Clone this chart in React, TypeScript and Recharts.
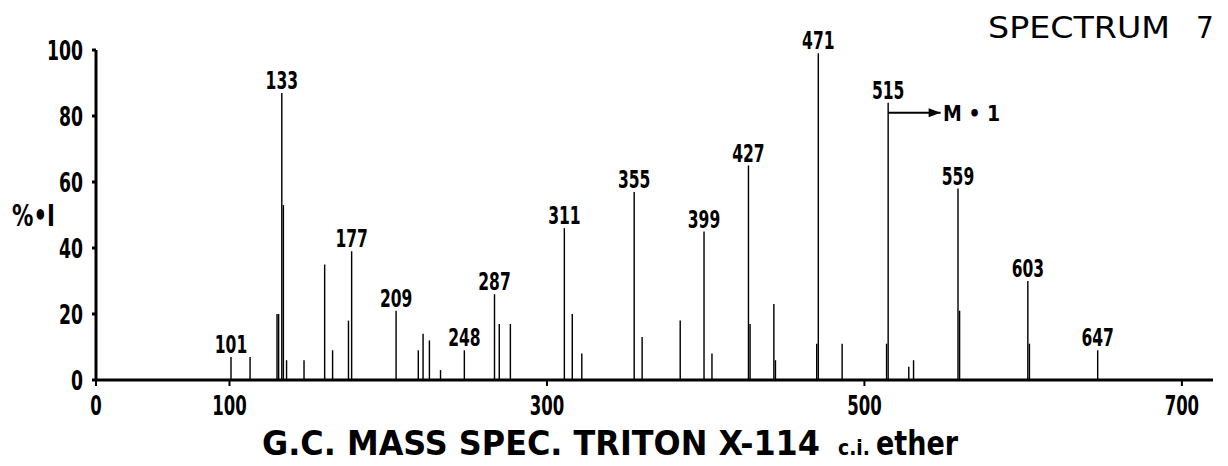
import React from 'react';
import { ComposedChart, Bar, Line, XAxis, YAxis, LabelList } from 'recharts';

// m/z of each line and its relative intensity (%)
const MASSES = [
    101, 113, 130, 131, 133, 134, 136, 147, 160, 165, 175, 177,
    205, 219, 222, 226, 233, 248, 267, 270, 277,
    311, 316, 322, 355, 360, 384, 399, 404, 427, 428, 443, 444,
    470, 471, 486, 514, 515, 528, 531, 559, 560, 603, 604, 647,
];
const INTENSITIES = [
    7, 7, 20, 20, 87, 53, 6, 6, 35, 9, 18, 39,
    21, 9, 14, 12, 3, 9, 26, 17, 17,
    46, 20, 8, 57, 13, 18, 45, 8, 65, 17, 23, 6,
    11, 99, 11, 11, 84, 4, 6, 58, 21, 30, 11, 9,
];

// peaks carrying a number, and the number printed above them
const LABEL_MASSES = [101, 133, 177, 205, 248, 267, 311, 355, 399, 427, 471, 515, 559, 603, 647];
const LABEL_TEXTS = ['101', '133', '177', '209', '248', '287', '311', '355', '399', '427', '471', '515', '559', '603', '647'];

const X_TICKS = [100, 300, 500, 700];
const Y_TICKS = [0, 20, 40, 60, 80, 100];
const X_MIN = 15.9;
const X_MAX = 719.6;

// M+1 arrow from the 515 line
const ARROW_MASSES = [515, 548];
const ARROW_LEVELS = [81, 81];

const FONT = "'DejaVu Sans Condensed', 'DejaVu Sans', sans-serif";

const data = MASSES.map((m, i) => {
    const k = LABEL_MASSES.indexOf(m);
    return { mass: m, intensity: INTENSITIES[i], label: k >= 0 ? LABEL_TEXTS[k] : '' };
});

const arrowData = ARROW_MASSES.map((m, i) => ({ mass: m, level: ARROW_LEVELS[i] }));

// narrow stencil-like digits: squeeze the glyphs to the width seen in the scan
const Narrow = ({ x, y, text, size, perChar, anchor, dy, weight }: any) => (
    <text
        x={x}
        y={y}
        dy={dy}
        textAnchor={anchor}
        fontSize={size}
        fontWeight={weight}
        fontFamily={FONT}
        fill="#000"
        textLength={text.length * perChar}
        lengthAdjust="spacingAndGlyphs"
    >
        {text}
    </text>
);

const PeakLabel = (props: any) => {
    const { x, y, width, value } = props;
    if (!value) return null;
    return <Narrow x={x + width / 2} y={y - 4} text={String(value)} size={24} perChar={10.8} anchor="middle" weight={600} />;
};

const YTick = (props: any) => {
    const { x, y, payload } = props;
    return <Narrow x={x} y={y} dy="0.36em" text={String(payload.value)} size={27} perChar={12} anchor="end" weight={600} />;
};

const XTick = (props: any) => {
    const { x, y, payload } = props;
    const t = payload.value < 50 ? '0' : String(payload.value);
    return <Narrow x={x} y={y} dy="0.72em" text={t} size={27} perChar={11.5} anchor="middle" weight={600} />;
};

const ArrowHead = (props: any) => {
    const { cx, cy, index } = props;
    if (index !== arrowData.length - 1) return <g key={`a${index}`} />;
    return <polygon key={`a${index}`} points={`${cx},${cy} ${cx - 12},${cy - 4.5} ${cx - 12},${cy + 4.5}`} fill="#000" />;
};

export default function App() {
    return (
        <div style={{ position: 'absolute', left: 0, top: 0, width: 1228, height: 466, background: '#fff' }}>
            <ComposedChart
                width={1228}
                height={466}
                data={data}
                margin={{ top: 50, right: 15, bottom: 0, left: 36 }}
            >
                <XAxis
                    type="number"
                    dataKey="mass"
                    domain={[X_MIN, X_MAX]}
                    allowDataOverflow
                    ticks={[X_MIN, ...X_TICKS]}
                    interval={0}
                    axisLine={{ stroke: '#000', strokeWidth: 3 }}
                    tickLine={{ stroke: '#000', strokeWidth: 2 }}
                    tickSize={6}
                    tickMargin={10}
                    height={86}
                    tick={<XTick />}
                />
                <YAxis
                    type="number"
                    domain={[0, 100]}
                    ticks={Y_TICKS}
                    interval={0}
                    axisLine={{ stroke: '#000', strokeWidth: 3 }}
                    tickLine={{ stroke: '#000', strokeWidth: 3 }}
                    tickSize={4}
                    tickMargin={9}
                    width={60}
                    tick={<YTick />}
                />
                <Bar dataKey="intensity" fill="#000" barSize={2.5} isAnimationActive={false}>
                    <LabelList dataKey="label" content={PeakLabel} />
                </Bar>
                <Line
                    data={arrowData}
                    dataKey="level"
                    stroke="#000"
                    strokeWidth={2}
                    dot={ArrowHead}
                    activeDot={false}
                    isAnimationActive={false}
                />
            </ComposedChart>
            <svg
                width={1228}
                height={466}
                style={{ position: 'absolute', left: 0, top: 0, pointerEvents: 'none' }}
            >
                <text x={988} y={38} fontSize={31} fontFamily={FONT} textLength={182} lengthAdjust="spacingAndGlyphs">SPECTRUM</text>
                <text x={1196} y={38} fontSize={31} fontFamily={FONT}>7</text>
                <text x={943} y={121} fontSize={21} fontWeight={600} fontFamily={FONT}>M • 1</text>
                <text x={12} y={226} fontSize={30} fontWeight="bold" fontFamily={FONT} textLength={43} lengthAdjust="spacingAndGlyphs">%•I</text>
                <text x={262} y={455} fontSize={33} fontWeight="bold" fontFamily={FONT} textLength={558} lengthAdjust="spacingAndGlyphs">G.C. MASS SPEC.  TRITON  X-114</text>
                <text x={838} y={455} fontSize={21} fontWeight={600} fontFamily={FONT} textLength={32} lengthAdjust="spacingAndGlyphs">c.i.</text>
                <text x={876} y={455} fontSize={33} fontWeight="bold" fontFamily={FONT} textLength={82} lengthAdjust="spacingAndGlyphs">ether</text>
            </svg>
        </div>
    );
}
